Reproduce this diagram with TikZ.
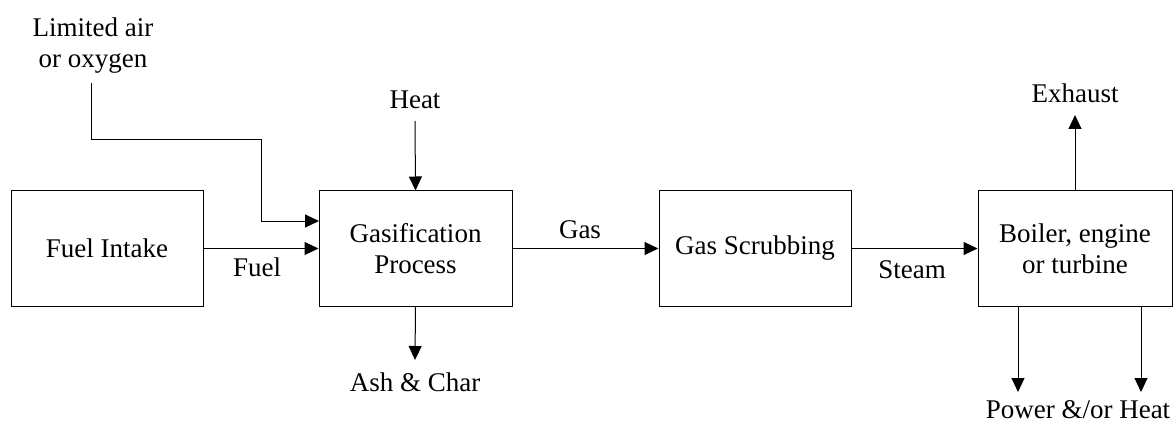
\documentclass[tikz,border=0pt]{standalone}
\usepackage{fontspec}
\setmainfont{Liberation Serif}
\usetikzlibrary{arrows.meta}
\begin{document}
\begin{tikzpicture}[x=1pt,y=-1pt,
  every node/.style={font=\fontsize{27}{31}\selectfont, inner sep=0pt},
  block/.style={draw=black, line width=1pt, minimum height=115pt, align=center},
  flow/.style={draw=black, line width=1pt, -{Triangle[length=14pt,width=13pt]}},
  lbl/.style={align=center}]
  \useasboundingbox (0,0) rectangle (1176,425);

  % process blocks
  \node[block, minimum width=192pt] (intake) at (107,248.5) {Fuel Intake};
  \node[block, minimum width=193pt] (gasif)  at (415.5,248.5) {Gasification\\Process};
  \node[block, minimum width=192pt] (scrub)  at (755,248.5) {Gas Scrubbing};
  \node[block, minimum width=194pt] (boiler) at (1075,248.5) {Boiler, engine\\or turbine};

  % free labels
  \node[lbl] (air)     at (93,46)    {Limited air\\or oxygen};
  \node[lbl] (heat)    at (415,100)  {Heat};
  \node[lbl] (ash)     at (415,382)  {Ash \& Char};
  \node[lbl] (gaslbl)  at (580,230)  {Gas};
  \node[lbl] (fuellbl) at (257,267)  {Fuel};
  \node[lbl] (steam)   at (912,270)  {Steam};
  \node[lbl] (exhaust) at (1075,93)  {Exhaust};
  \node[lbl] (power)   at (1078,410) {Power \&/or Heat};

  % connector end points
  \coordinate (airtop)  at (91,83);
  \coordinate (airin)   at (319,221);
  \coordinate (heattop) at (415,121);
  \coordinate (ashend)  at (415,360);
  \coordinate (exend)   at (1075,115);
  \coordinate (pw1)     at (1018,392);
  \coordinate (pw2)     at (1141,392);

  % flows
  \draw[flow] (intake.east) -- (gasif.west);
  \draw[flow] (airtop) |- (261,140) |- (airin);
  \draw[flow] (heattop) -- (gasif.north);
  \draw[flow] (gasif.south) -- (ashend);
  \draw[flow] (gasif.east) -- (scrub.west);
  \draw[flow] (scrub.east) -- (boiler.west);
  \draw[flow] (boiler.north) -- (exend);
  \draw[flow] (pw1 |- boiler.south) -- (pw1);
  \draw[flow] (pw2 |- boiler.south) -- (pw2);
\end{tikzpicture}
\end{document}
